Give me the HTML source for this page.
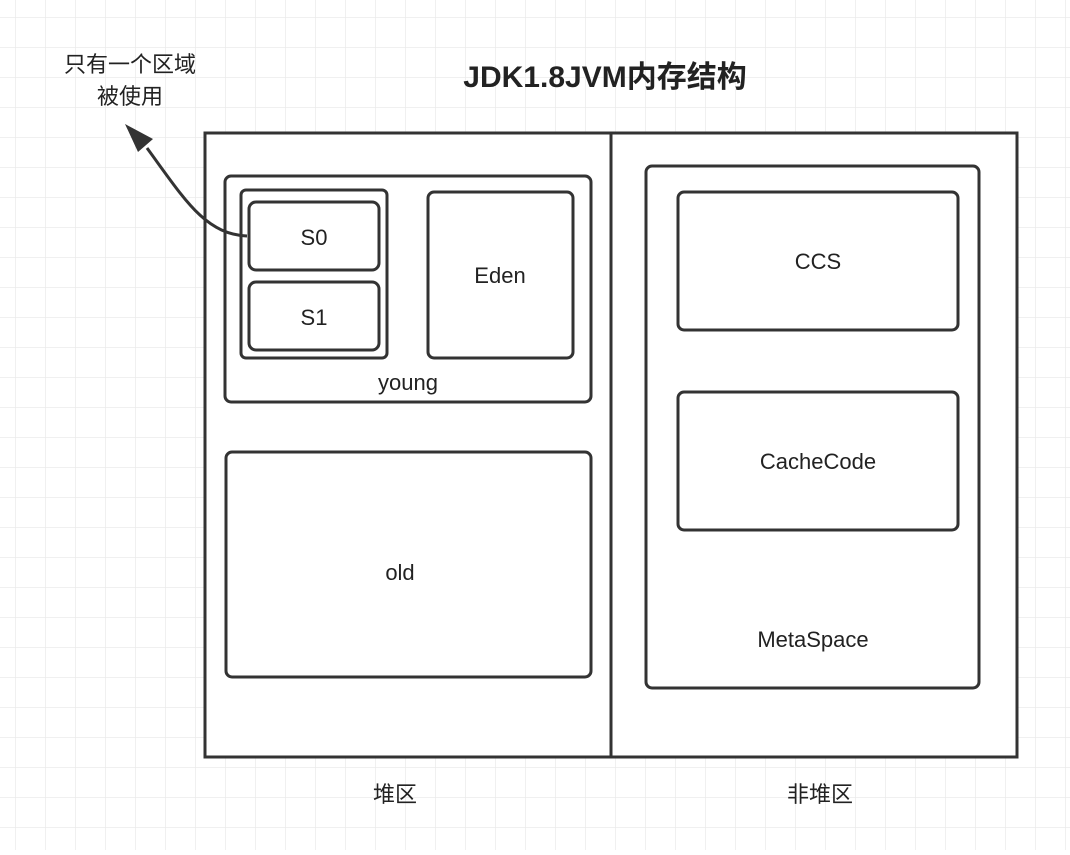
<!DOCTYPE html>
<html><head><meta charset="utf-8"><style>
body{margin:0;width:1070px;height:850px;overflow:hidden;background:#fff}
svg text{font-family:"Liberation Sans","Noto Sans CJK SC",sans-serif;fill:#222}
</style></head><body>
<svg width="1070" height="850" viewBox="0 0 1070 850">
<defs>
<pattern id="g" x="15" y="17" width="30" height="30" patternUnits="userSpaceOnUse">
<path d="M0 0H30M0 0V30" stroke="#ebebeb" stroke-width="1.5" fill="none"/>
</pattern>
</defs>
<rect width="1070" height="850" fill="url(#g)"/>
<g fill="#fff" stroke="#333" stroke-width="3">
<rect x="205" y="133" width="812" height="624"/>
<line x1="611" y1="133" x2="611" y2="757"/>
<rect x="225" y="176" width="366" height="226" rx="6"/>
<rect x="241" y="190" width="146" height="168" rx="5"/>
<rect x="249" y="202" width="130" height="68" rx="7"/>
<rect x="249" y="282" width="130" height="68" rx="7"/>
<rect x="428" y="192" width="145" height="166" rx="6"/>
<rect x="226" y="452" width="365" height="225" rx="6"/>
<rect x="646" y="166" width="333" height="522" rx="6"/>
<rect x="678" y="192" width="280" height="138" rx="6"/>
<rect x="678" y="392" width="280" height="138" rx="6"/>
</g>
<path d="M247 236 C205 234 185 200 147 148" stroke="#333" stroke-width="3" fill="none"/>
<path d="M125 124 L153 139 L138 152 Z" fill="#333"/>
<g font-size="22" text-anchor="middle">
<text x="605" y="87" font-size="30" font-weight="bold">JDK1.8JVM内存结构</text>
<text x="130" y="72">只有一个区域</text>
<text x="130" y="104">被使用</text>
<text x="314" y="245">S0</text>
<text x="314" y="325">S1</text>
<text x="500" y="283">Eden</text>
<text x="408" y="390">young</text>
<text x="400" y="580">old</text>
<text x="818" y="269">CCS</text>
<text x="818" y="469">CacheCode</text>
<text x="813" y="647">MetaSpace</text>
<text x="395" y="802">堆区</text>
<text x="820" y="802">非堆区</text>
</g>
</svg>
</body></html>
